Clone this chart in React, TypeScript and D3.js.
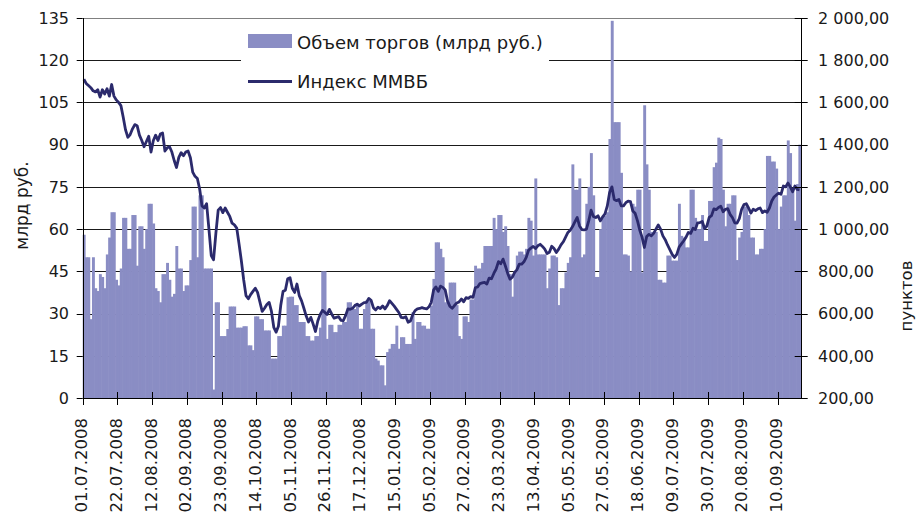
import React from "react";
import * as d3 from "d3";

// trading volume, bn rub (one value per trading day, 01.07.2008 .. end of 09.2009)
const volume = [
  // 0
  58, 50, 50, 28, 50, 39, 38, 44, 43, 39,
  51, 57, 66, 66, 42, 40, 46, 64, 64, 53,
  53, 65, 65, 47, 61, 61, 53, 60, 69, 69,
  62, 39, 38, 34, 44, 44, 48, 42, 36, 37,
  54, 46, 46, 38, 40, 40, 49, 68, 68, 50,
  // 50
  72, 72, 46, 46, 46, 46, 3, 34, 34, 22,
  22, 22, 24.5, 32.5, 32.5, 32.5, 25, 25, 25, 25.5,
  25.5, 18.7, 18.7, 17, 29, 29, 28, 28, 24, 24,
  24, 14, 14, 14, 22, 22, 25.7, 25.7, 35.8, 36,
  36, 33, 33, 27, 27, 27, 22, 22, 20.4, 20.4,
  // 100
  22, 22, 25, 45, 45, 21, 26, 26, 23.4, 23.4,
  26, 26, 27, 27, 34, 34, 31.6, 31.6, 32.8, 24.6,
  24.6, 31.6, 34.6, 34.6, 24.6, 24.6, 14, 13.3, 11.6, 11.6,
  4.5, 16.3, 17.5, 19.2, 19.2, 25.7, 17.5, 21.6, 21.6, 19.2,
  19.2, 19.2, 30.5, 21, 27, 27, 25.7, 25.7, 24.6, 24.6,
  // 150
  32.8, 42.3, 55.3, 55.3, 53, 50, 34, 34, 41, 41,
  41, 33, 22, 21, 29, 29, 27, 35, 35, 47,
  46, 46, 48, 54, 54, 54, 54, 64, 60, 65,
  65, 59, 61, 54, 44, 36, 45, 50.6, 52, 52,
  51, 53, 64, 63, 50.6, 78, 51, 51, 51, 51,
  // 200
  39, 46, 50.6, 50.6, 50, 33, 39, 39, 44.6, 48,
  50, 83, 74, 74, 78, 50, 51, 69, 75, 87,
  72, 43, 43, 60, 64.7, 64.7, 66, 92, 134, 98,
  98, 98, 80, 51, 51, 50.6, 45, 69, 68, 74,
  74, 44.6, 104, 83, 74, 59, 59, 59, 42, 42,
  // 250
  41, 41, 50.6, 50.6, 48.8, 48.8, 48.8, 69, 57.6, 57,
  53.5, 53.5, 74, 74, 64, 60, 60, 65, 55.8, 55.8,
  70, 70, 82, 83.6, 92.5, 92, 74, 61, 69, 69,
  72, 72, 49, 57, 59, 68, 68, 65, 57, 57,
  51, 51, 53, 53, 60, 86, 86, 84, 84, 81.5,
  // 300
  60, 68, 72, 72, 91.5, 87, 74, 63, 76, 90,
];

// MICEX index, points
const micex = [
  // 0
  1710, 1690, 1680, 1670, 1655, 1650, 1660, 1625, 1660, 1640,
  1665, 1630, 1685, 1630, 1612, 1600, 1585, 1530, 1470, 1435,
  1448, 1475, 1495, 1490, 1445, 1420, 1390, 1415, 1440, 1365,
  1420, 1445, 1420, 1450, 1455, 1370, 1385, 1390, 1365, 1325,
  1292, 1340, 1362, 1348, 1365, 1370, 1338, 1270, 1250, 1240,
  // 50
  1190, 1110, 1100, 1120, 1000, 875, 855, 980, 1090, 1102,
  1078, 1100, 1080, 1060, 1028, 1020, 1005, 930, 850, 760,
  685, 670, 690, 705, 720, 700, 655, 610, 625, 643,
  653, 610, 535, 512, 540, 638, 705, 710, 765, 770,
  720, 700, 740, 685, 660, 625, 588, 560, 582, 550,
  // 100
  515, 565, 595, 615, 606, 595, 620, 598, 578, 582,
  585, 568, 566, 590, 622, 620, 625, 638, 645, 636,
  645, 652, 653, 672, 663, 628, 617, 630, 624, 636,
  622, 638, 661, 648, 635, 620, 605, 582, 580, 585,
  559, 565, 595, 614, 622, 624, 628, 624, 622, 632,
  // 150
  653, 712, 726, 705, 730, 724, 712, 660, 635, 625,
  638, 650, 655, 669, 656, 675, 672, 680, 677, 722,
  726, 742, 745, 748, 740, 768, 765, 790, 811, 846,
  836, 858, 825, 790, 763, 772, 795, 808, 834, 834,
  845, 866, 900, 910, 918, 908, 921, 928, 918, 905,
  // 200
  884, 890, 919, 908, 889, 905, 925, 940, 962, 984,
  995, 1012, 1034, 1055, 1015, 998, 996, 1000, 1040, 1090,
  1060, 1055, 1063, 1039, 1058, 1072, 1110, 1173, 1200, 1140,
  1135, 1140, 1110, 1110, 1125, 1133, 1130, 1086, 1075, 1040,
  996, 962, 913, 965, 975, 968, 980, 1000, 1020, 1000,
  // 250
  968, 950, 925, 903, 880, 866, 880, 915, 930, 945,
  962, 984, 980, 1004, 998, 1030, 1031, 1036, 1003, 1015,
  1056, 1064, 1096, 1092, 1102, 1108, 1082, 1094, 1097, 1070,
  1055, 1030, 1028, 1050, 1094, 1116, 1120, 1100, 1076, 1094,
  1088, 1096, 1100, 1078, 1086, 1080, 1100, 1133, 1152, 1162,
  // 300
  1170, 1165, 1204, 1200, 1218, 1200, 1177, 1204, 1188, 1186,
];

// every 15th trading day is labelled
const dateLabels = [
  "01.07.2008", "22.07.2008", "12.08.2008", "02.09.2008", "23.09.2008",
  "14.10.2008", "05.11.2008", "26.11.2008", "17.12.2008", "15.01.2009",
  "05.02.2009", "27.02.2009", "23.03.2009", "13.04.2009", "05.05.2009",
  "27.05.2009", "18.06.2009", "09.07.2009", "30.07.2009", "20.08.2009",
  "10.09.2009",
];
const labelStep = 15;

const volTicks = [0, 15, 30, 45, 60, 75, 90, 105, 120, 135];
const idxTicks = [200, 400, 600, 800, 1000, 1200, 1400, 1600, 1800, 2000];

const seriesNames = ["Объем торгов (млрд руб.)", "Индекс ММВБ"];
const leftTitle = "млрд руб.";
const rightTitle = "пунктов";

const barColor = "#8a8dc4";
const lineColor = "#2b2a6c";
const textColor = "#1a1a1a";
const font = "'DejaVu Sans', sans-serif";

const ruLocale = d3.formatLocale({
  decimal: ",",
  thousands: " ",
  grouping: [3],
  currency: ["", ""],
});
const fmtIdx = ruLocale.format(",.2f");

export default function App() {
  const width = 924;
  const height = 514;
  const left = 82.7;
  const right = 800.7;
  const top = 18;
  const bottom = 398;

  const x = d3
    .scaleBand<number>()
    .domain(d3.range(volume.length))
    .range([left, right])
    .padding(0);
  const bw = x.bandwidth();

  const yVol = d3.scaleLinear().domain([0, 135]).range([bottom, top]);
  const yIdx = d3.scaleLinear().domain([200, 2000]).range([bottom, top]);

  const line = d3
    .line<number>()
    .x((_, i) => (x(i) as number) + bw / 2)
    .y((d) => yIdx(d));

  const crisp = (v: number) => Math.round(v) + 0.5;

  return (
    <svg
      width={width}
      height={height}
      style={{ position: "absolute", left: 0, top: 0, background: "#fff" }}
      fontFamily={font}
    >
      {/* gridlines */}
      {volTicks.slice(1).map((t) => (
        <line
          key={"g" + t}
          x1={left}
          x2={right}
          y1={crisp(yVol(t))}
          y2={crisp(yVol(t))}
          stroke={t === 135 ? "#808080" : "#1a1a1a"}
          strokeWidth={1}
        />
      ))}

      {/* legend background hides part of the grid */}
      <rect x={241} y={22} width={308} height={74} fill="#fff" />

      {/* volume bars */}
      {volume.map((v, i) => (
        <rect
          key={"b" + i}
          x={x(i)}
          y={yVol(v)}
          width={bw + 0.6}
          height={bottom - yVol(v)}
          fill={barColor}
        />
      ))}

      {/* index line */}
      <path
        d={line(micex) || ""}
        fill="none"
        stroke={lineColor}
        strokeWidth={2.8}
        strokeLinejoin="round"
      />

      {/* axes */}
      <line x1={crisp(left)} x2={crisp(left)} y1={top} y2={bottom} stroke="#000" />
      <line x1={crisp(right)} x2={crisp(right)} y1={top} y2={bottom} stroke="#000" />
      <line x1={left} x2={right} y1={crisp(bottom)} y2={crisp(bottom)} stroke="#000" />

      {/* left axis */}
      {volTicks.map((t) => (
        <g key={"l" + t}>
          <line
            x1={left - 6}
            x2={left}
            y1={crisp(yVol(t))}
            y2={crisp(yVol(t))}
            stroke="#000"
          />
          <text
            x={69}
            y={yVol(t)}
            dy="0.36em"
            textAnchor="end"
            fontSize={16}
            fill={textColor}
          >
            {t}
          </text>
        </g>
      ))}

      {/* right axis */}
      {idxTicks.map((t) => (
        <g key={"r" + t}>
          <line
            x1={right - 6}
            x2={right + 7}
            y1={crisp(yIdx(t))}
            y2={crisp(yIdx(t))}
            stroke="#000"
          />
          <text
            x={818}
            y={yIdx(t)}
            dy="0.36em"
            fontSize={16}
            fill={textColor}
          >
            {fmtIdx(t)}
          </text>
        </g>
      ))}

      {/* category axis */}
      {dateLabels.map((lab, k) => {
        const tx = x(k * labelStep) as number;
        return (
          <g key={"d" + k}>
            <line
              x1={crisp(tx)}
              x2={crisp(tx)}
              y1={bottom - 6}
              y2={bottom + 7}
              stroke="#000"
            />
            <text
              transform={`translate(${tx + 4.5},${bottom + 20}) rotate(-90)`}
              textAnchor="end"
              fontSize={16.5}
              fill={textColor}
            >
              {lab}
            </text>
          </g>
        );
      })}

      {/* axis titles */}
      <text
        transform={`translate(28,205.5) rotate(-90)`}
        textAnchor="middle"
        fontSize={17}
        fill={textColor}
      >
        {leftTitle}
      </text>
      <text
        transform={`translate(912,296) rotate(-90)`}
        textAnchor="middle"
        fontSize={16.5}
        fill={textColor}
      >
        {rightTitle}
      </text>

      {/* legend */}
      <rect x={248} y={34} width={44} height={14} fill={barColor} />
      <text x={297} y={49} fontSize={18} fill={textColor}>
        {seriesNames[0]}
      </text>
      <line
        x1={248}
        x2={292}
        y1={81.5}
        y2={81.5}
        stroke={lineColor}
        strokeWidth={3}
      />
      <text x={297} y={87.5} fontSize={18} fill={textColor}>
        {seriesNames[1]}
      </text>
    </svg>
  );
}
